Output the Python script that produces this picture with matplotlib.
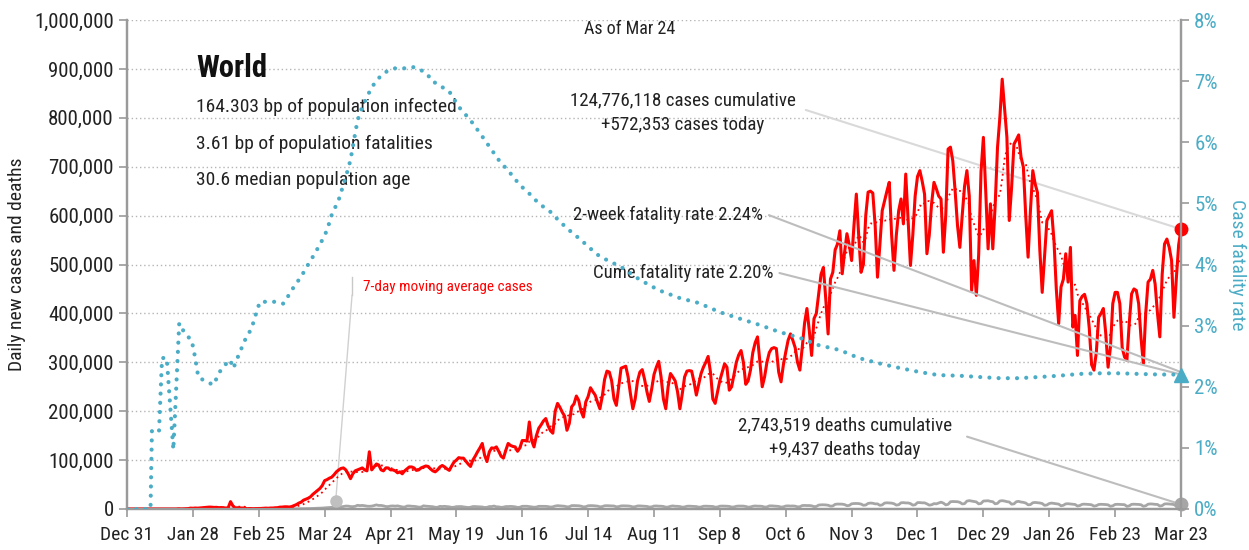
import numpy as np
import pandas as pd
import matplotlib
matplotlib.use("Agg")
import matplotlib.pyplot as plt
from matplotlib.ticker import FuncFormatter

plt.rcParams['font.family'] = ['Roboto Condensed', 'Barlow Semi Condensed', 'DejaVu Sans']

# daily new cases, thousands, Dec 31 2019 .. Mar 23 2021
cases_k = [
    0, 0, 0, 0, 0, 0, 0,
    0, 0, 0, 0, 0, 0, 0,
    0, 0, 0, 0, 0, 0, 0,
    0, 0.5, 0.1, 0.3, 0.7, 0.8, 1.8,
    1.5, 2.0, 1.7, 2.1, 2.6, 2.8, 3.2,
    3.9, 3.7, 3.2, 3.4, 2.7, 3.0, 2.6,
    2.0, 2.5, 15.1, 6.5, 2.1, 2.6, 2.1,
    1.9, 1.8, 0.6, 1.0, 0.7, 0.6, 0.9,
    1.0, 1.1, 1.5, 1.8, 1.5, 2.0, 2.0,
    2.5, 2.7, 3.8, 3.9, 4.5, 4.5, 4.0,
    5, 7, 9, 12, 14, 18, 20,
    22, 25, 30, 34, 38, 42, 48,
    58, 60, 63, 65, 70, 76, 80,
    83, 84, 80, 72, 62, 72, 78,
    80, 82, 84, 80, 78, 117, 80,
    86, 92, 90, 80, 78, 84, 84,
    80, 80, 78, 74, 76, 72, 78,
    82, 86, 86, 84, 79, 80, 84,
    86, 88, 87, 82, 78, 76, 80,
    86, 89, 86, 82, 79, 88, 96,
    100, 105, 104, 104, 98, 92, 87,
    100, 108, 117, 125, 134, 110, 97,
    117, 125, 124, 127, 118, 108, 104,
    120, 134, 130, 128, 127, 118, 125,
    140, 140, 139, 178, 140, 127, 150,
    165, 172, 180, 185, 170, 160, 155,
    200, 216, 208, 198, 190, 161, 175,
    209, 215, 231, 222, 200, 188, 219,
    230, 248, 240, 233, 218, 205, 230,
    265, 282, 280, 262, 225, 212, 250,
    288, 290, 292, 270, 235, 205, 225,
    262, 280, 285, 265, 240, 220, 245,
    275, 290, 302, 270, 225, 205, 250,
    277, 270, 262, 240, 205, 235, 270,
    282, 283, 282, 260, 233, 255, 277,
    290, 300, 312, 280, 225, 216, 240,
    263, 280, 297, 290, 243, 250, 275,
    300, 315, 324, 300, 255, 262, 284,
    320, 340, 352, 300, 250, 270, 300,
    320, 328, 330, 328, 280, 260, 295,
    321, 345, 358, 345, 330, 300, 284,
    330, 380, 410, 365, 314, 389, 400,
    440, 480, 494, 430, 358, 470, 484,
    530, 542, 569, 481, 525, 563, 540,
    508, 580, 644, 560, 484, 500, 600,
    648, 650, 646, 580, 474, 540, 610,
    630, 650, 668, 560, 488, 560, 610,
    634, 583, 685, 590, 498, 560, 640,
    680, 692, 670, 644, 522, 560, 625,
    668, 655, 640, 634, 525, 600, 736,
    740, 712, 650, 580, 535, 600, 660,
    692, 640, 447, 508, 437, 520, 690,
    760, 650, 532, 624, 532, 620, 739,
    800, 879, 820, 760, 590, 658, 746,
    755, 765, 720, 699, 600, 515, 610,
    692, 665, 647, 529, 443, 515, 590,
    600, 610, 549, 450, 379, 454, 470,
    522, 464, 535, 372, 396, 314, 426,
    435, 439, 420, 370, 295, 284, 320,
    392, 400, 410, 360, 290, 330, 420,
    443, 443, 420, 330, 311, 304, 380,
    440, 450, 447, 420, 350, 297, 400,
    464, 470, 488, 460, 400, 352, 480,
    542, 552, 535, 508, 392, 470, 540,
    572.353,
]

# daily deaths, thousands
deaths_k = [
    0, 0, 0, 0, 0, 0, 0,
    0, 0, 0, 0, 0, 0, 0,
    0, 0, 0, 0, 0, 0, 0,
    0, 0.02, 0.01, 0.01, 0.02, 0.02, 0.02,
    0.03, 0.03, 0.04, 0.04, 0.05, 0.05, 0.06,
    0.06, 0.07, 0.07, 0.09, 0.09, 0.1, 0.1,
    0.1, 0.25, 0.15, 0.14, 0.14, 0.1, 0.1,
    0.1, 0.14, 0.12, 0.1, 0.1, 0.1, 0.05,
    0.07, 0.05, 0.04, 0.06, 0.06, 0.07, 0.08,
    0.09, 0.1, 0.1, 0.1, 0.1, 0.1, 0.2,
    0.3, 0.3, 0.35, 0.4, 0.4, 0.5, 0.6,
    0.8, 0.9, 1.1, 1.4, 1.6, 1.7, 1.9,
    2.4, 2.7, 3.0, 3.5, 3.6, 3.3, 3.9,
    4.6, 5.1, 6.0, 5.9, 5.0, 4.8, 5.5,
    7.6, 6.9, 7.3, 6.7, 5.8, 5.5, 5.9,
    7.0, 8.4, 7.2, 7.3, 6.4, 5.1, 4.9,
    6.0, 6.3, 5.8, 6.4, 5.4, 4.3, 3.8,
    6.0, 6.2, 5.6, 5.4, 4.8, 3.8, 3.9,
    6.5, 5.8, 5.5, 5.3, 4.7, 3.5, 3.5,
    5.4, 5.0, 5.4, 4.8, 4.4, 3.3, 3.6,
    4.8, 4.8, 5.0, 4.4, 4.0, 3.0, 3.6,
    5.0, 5.0, 4.7, 4.3, 4.1, 3.1, 3.4,
    5.0, 5.0, 6.0, 4.5, 4.3, 3.4, 3.8,
    5.0, 5.0, 5.3, 5.0, 4.4, 3.3, 3.6,
    5.5, 5.5, 5.6, 5.0, 4.5, 3.6, 4.0,
    5.5, 5.5, 5.6, 5.4, 4.9, 3.9, 4.5,
    6.0, 6.8, 6.5, 6.0, 5.6, 4.4, 4.6,
    6.9, 7.0, 6.7, 6.6, 5.8, 4.3, 4.8,
    6.6, 6.9, 6.8, 6.3, 5.9, 4.5, 4.9,
    6.6, 6.8, 6.5, 6.4, 6.1, 4.5, 4.9,
    6.3, 6.5, 6.3, 6.2, 5.6, 4.3, 4.7,
    6.2, 6.3, 6.0, 5.8, 5.3, 4.0, 4.3,
    6.0, 6.2, 5.8, 5.7, 5.2, 3.8, 4.0,
    5.5, 6.3, 5.6, 5.5, 5.0, 3.8, 4.2,
    5.6, 5.8, 5.5, 5.4, 5.0, 3.8, 4.1,
    5.6, 5.8, 5.6, 5.6, 5.2, 3.8, 4.1,
    5.8, 6.0, 5.9, 5.7, 5.3, 4.0, 4.2,
    5.6, 6.0, 6.0, 5.9, 5.2, 3.8, 4.2,
    5.6, 6.2, 5.8, 5.8, 5.4, 4.0, 4.2,
    6.3, 6.4, 6.1, 6.0, 5.3, 3.9, 4.4,
    6.1, 6.4, 6.0, 6.2, 5.8, 4.4, 4.6,
    7.0, 7.3, 7.0, 7.1, 6.5, 4.9, 5.2,
    8.0, 8.5, 8.6, 8.3, 7.7, 5.8, 6.2,
    9.5, 10.1, 10.0, 9.9, 9.0, 6.8, 7.3,
    10.6, 11.2, 11.3, 11.1, 10.1, 7.6, 8.2,
    11.4, 12.2, 11.7, 10.5, 10.5, 7.5, 8.4,
    12.1, 12.7, 12.4, 12.0, 10.8, 8.0, 8.7,
    12.7, 13.0, 12.4, 12.4, 11.1, 7.9, 8.7,
    13.1, 13.1, 12.6, 12.6, 10.5, 7.9, 8.6,
    11.0, 10.5, 12.3, 14.0, 12.0, 8.5, 9.5,
    14.8, 15.3, 15.1, 14.9, 13.6, 10.4, 10.9,
    16.2, 17.1, 16.3, 15.6, 14.5, 10.5, 11.3,
    16.3, 16.6, 16.9, 15.6, 14.9, 10.6, 11.5,
    16.4, 17.0, 16.3, 15.0, 14.3, 9.9, 10.5,
    14.9, 15.6, 14.2, 13.6, 12.2, 8.6, 9.0,
    12.8, 13.4, 12.8, 12.3, 11.2, 7.5, 8.2,
    11.2, 12.1, 11.4, 10.8, 10.0, 6.6, 7.6,
    10.5, 10.8, 10.3, 9.8, 9.2, 6.1, 7.1,
    9.6, 9.9, 9.6, 9.2, 8.6, 5.9, 6.8,
    9.2, 9.6, 9.4, 9.1, 8.5, 5.5, 6.5,
    9.3, 9.6, 9.4, 9.1, 8.8, 5.4, 6.4,
    9.5, 9.8, 9.6, 9.3, 8.7, 5.5, 6.6,
    9.8, 10.4, 10.1, 9.5, 9.3, 6.0, 7.0,
    10.3, 10.6, 10.2, 9.8, 9.0, 6.0, 7.0,
    9.437,
]

# case fatality rate (%), by day index
cfr_day = [0, 10, 10.6, 13.6, 14.9, 16.9, 19.7, 22.2, 24.6, 25.9, 27.5, 28.9,
           30.3, 32.4, 36.7, 40.2, 43.8, 45.2, 46.6, 50.1, 53, 55.1, 56.5,
           59.4, 63.6, 66.4, 69.3, 71, 74, 77, 80, 83, 85, 87, 90, 93, 95,
           96.5, 98, 100, 102, 104, 107, 110, 114, 119, 122, 125, 128, 129,
           137, 141, 146, 150, 154, 158, 163, 167, 171, 175, 180, 184, 188,
           193, 197, 201, 210, 218, 226, 235, 243, 252, 260, 269, 277, 286,
           294, 303, 311, 320, 328, 337, 345, 354, 362, 371, 379, 388, 396,
           405, 413, 422, 430, 439, 448]
cfr_pct = [0, 0, 1.29, 1.27, 2.47, 2.47, 0.97, 3.04, 2.87, 2.82, 2.76, 2.49,
           2.16, 2.11, 2.03, 2.3, 2.44, 2.3, 2.44, 2.76, 2.96, 3.23, 3.39,
           3.39, 3.39, 3.36, 3.53, 3.64, 3.8, 4.0, 4.19, 4.4, 4.56, 4.81,
           5.06, 5.43, 5.71, 6.04, 6.36, 6.58, 6.74, 6.9, 7.05, 7.15, 7.21,
           7.21, 7.23, 7.18, 7.1, 7.02, 6.83, 6.58, 6.36, 6.15, 5.93, 5.71,
           5.49, 5.3, 5.16, 5.0, 4.86, 4.7, 4.56, 4.4, 4.26, 4.13, 3.96, 3.75,
           3.58, 3.45, 3.37, 3.22, 3.12, 3.01, 2.9, 2.8, 2.68, 2.6, 2.47,
           2.38, 2.31, 2.24, 2.19, 2.18, 2.16, 2.14, 2.14, 2.16, 2.18, 2.21,
           2.22, 2.22, 2.21, 2.2, 2.2]

tick_labels = ["Dec 31", "Jan 28", "Feb 25", "Mar 24", "Apr 21", "May 19",
               "Jun 16", "Jul 14", "Aug 11", "Sep 8", "Oct 6", "Nov 3",
               "Dec 1", "Dec 29", "Jan 26", "Feb 23", "Mar 23"]

RED = '#ff0000'
TEAL = '#4bacc6'
GRAY = '#a6a6a6'
SPINE = '#9a9a9a'
TXT = '#222222'

days = np.arange(len(cases_k))
cases = np.array(cases_k) * 1000
deaths = np.array(deaths_k) * 1000
ma7 = pd.Series(cases).rolling(7).mean()

fig = plt.figure(figsize=(12.49, 5.5), dpi=100)
ax = fig.add_axes([127 / 1249, 1 - 509 / 550, 1054 / 1249, 489 / 550])
ax2 = ax.twinx()

ax.set_xlim(0, 448)
ax.set_ylim(0, 1_000_000)
ax2.set_ylim(0, 8)

ax.set_yticks(np.arange(0, 1_000_001, 100_000))
ax.yaxis.set_major_formatter(FuncFormatter(lambda v, p: f"{v:,.0f}"))
ax.grid(axis='y', linestyle=(0, (1, 2)), color='#b5b5b5', lw=1)
ax.set_axisbelow(True)
ax.set_xticks(np.arange(0, 449, 28))
ax.set_xticklabels(tick_labels)

ax2.set_yticks(np.arange(0, 9))
ax2.set_yticklabels([f"{i}%" for i in range(9)])

for a in (ax, ax2):
    a.spines['top'].set_visible(False)
    for s in ('left', 'bottom', 'right'):
        a.spines[s].set_color(SPINE)
        a.spines[s].set_linewidth(1.6)
ax.tick_params(axis='both', colors=SPINE, labelcolor=TXT, labelsize=14,
               length=6, width=1.2)
ax.tick_params(axis='y', labelsize=15)
ax.tick_params(axis='x', pad=6)
ax2.tick_params(axis='y', colors=SPINE, labelcolor=TEAL, labelsize=15,
                length=6, width=1.2)

ax.set_ylabel("Daily new cases and deaths", fontsize=14, color=TXT, labelpad=6)
ax2.set_ylabel("Case fatality rate", fontsize=14, color=TEAL, rotation=270,
               labelpad=20)

# series
ax.plot(days, deaths, color=GRAY, lw=2, zorder=3)
ax.plot(days, ma7, color=RED, lw=1.3, linestyle=(0, (1, 2)), zorder=3)
ax.plot(days, cases, color=RED, lw=2.2, zorder=4)
ax.plot(days[-1], cases[-1], 'o', color=RED, ms=9, zorder=6, clip_on=False)
ax.plot(days[-1], deaths[-1], 'o', color=GRAY, ms=9, zorder=6, clip_on=False)

ax2.plot(cfr_day, cfr_pct, color=TEAL, lw=3, linestyle=(0, (0.01, 2.2)),
         dash_capstyle='round', zorder=3)
ax2.plot(cfr_day[-1], cfr_pct[-1], '^', color=TEAL, ms=10, zorder=6,
         clip_on=False)

# text block
ax.text(0.0655, 0.902, "World", transform=ax.transAxes, fontsize=22,
        fontweight='bold', color='#111111', va='center', ha='left')
info = ["164.303 bp of population infected",
        "3.61 bp of population fatalities",
        "30.6 median population age"]
for yy, t in zip([0.822, 0.746, 0.673], info):
    ax.text(0.0655, yy, t, transform=ax.transAxes, fontsize=14, color=TXT,
            va='center', ha='left')
ax.text(0.477, 0.982, "As of Mar 24", transform=ax.transAxes, fontsize=13,
        color=TXT, va='center', ha='center')

# annotations
ax.text(0.5275, 0.836, "124,776,118 cases cumulative", transform=ax.transAxes,
        fontsize=13.7, color=TXT, ha='center', va='center')
ax.text(0.5275, 0.785, "+572,353 cases today", transform=ax.transAxes,
        fontsize=13.7, color=TXT, ha='center', va='center')
ax.annotate('', xy=(days[-1], cases[-1]), xycoords='data',
            xytext=(0.644, 0.816), textcoords='axes fraction',
            arrowprops=dict(arrowstyle='-', color='#d9d9d9', lw=1.5,
                            shrinkA=0, shrinkB=0), zorder=2)

ax.text(0.6034, 0.601, "2-week fatality rate 2.24%", transform=ax.transAxes,
        fontsize=13.5, color=TXT, ha='right', va='center')
ax2.annotate('', xy=(cfr_day[-1], 2.24), xycoords='data',
             xytext=(0.609, 0.601), textcoords='axes fraction',
             arrowprops=dict(arrowstyle='-', color='#bdbdbd', lw=1.5,
                             shrinkA=0, shrinkB=0), zorder=2)
ax.text(0.613, 0.4826, "Cume fatality rate 2.20%", transform=ax.transAxes,
        fontsize=13.5, color=TXT, ha='right', va='center')
ax2.annotate('', xy=(cfr_day[-1], cfr_pct[-1]), xycoords='data',
             xytext=(0.619, 0.4826), textcoords='axes fraction',
             arrowprops=dict(arrowstyle='-', color='#bdbdbd', lw=1.5,
                             shrinkA=0, shrinkB=0), zorder=2)

ax.text(0.681, 0.1718, "2,743,519 deaths cumulative", transform=ax.transAxes,
        fontsize=13.7, color=TXT, ha='center', va='center')
ax.text(0.681, 0.1207, "+9,437 deaths today", transform=ax.transAxes,
        fontsize=13.7, color=TXT, ha='center', va='center')
ax.annotate('', xy=(days[-1], deaths[-1]), xycoords='data',
            xytext=(0.797, 0.148), textcoords='axes fraction',
            arrowprops=dict(arrowstyle='-', color='#bdbdbd', lw=1.5,
                            shrinkA=0, shrinkB=0), zorder=2)

# moving-average label with pointer
ax.text(0.224, 0.454, "7-day moving average cases", transform=ax.transAxes,
        fontsize=11, color=RED, ha='left', va='center')
ax.plot([0.2135, 0.2135], [0.474, 0.437], transform=ax.transAxes,
        color='#c8c8c8', lw=1)
ax.plot([0.2135, 0.198], [0.437, 0.016], transform=ax.transAxes,
        color='#d0d0d0', lw=1)
ax.plot([0.198], [0.016], 'o', transform=ax.transAxes, color='#c0c0c0',
        ms=8, zorder=5)

fig.savefig("out.png", dpi=100)
